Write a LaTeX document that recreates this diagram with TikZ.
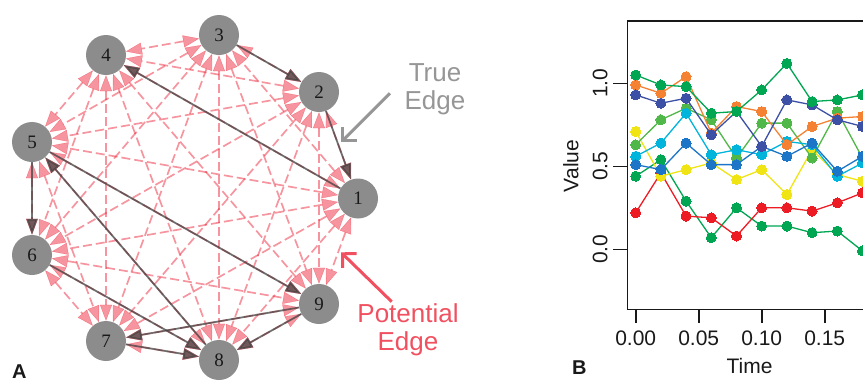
\documentclass[tikz,border=0pt]{standalone}
\usepackage{fontspec}
\setmainfont{Liberation Sans}
\newfontfamily\vertfont{Liberation Serif}
\usetikzlibrary{arrows.meta}

\definecolor{vertgray}{RGB}{140,140,140}
\definecolor{potred}{RGB}{235,30,50}
\definecolor{truegray}{RGB}{65,65,65}
\definecolor{labgray}{RGB}{150,150,150}
\definecolor{labred}{RGB}{240,80,95}
\definecolor{inkdark}{RGB}{25,25,25}
% series colours
\definecolor{sRed}{RGB}{237,28,36}
\definecolor{sOrange}{RGB}{245,130,50}
\definecolor{sYellow}{RGB}{240,228,20}
\definecolor{sDkGreen}{RGB}{0,166,81}
\definecolor{sLtGreen}{RGB}{80,184,72}
\definecolor{sCyan}{RGB}{0,180,220}
\definecolor{sBlue}{RGB}{28,117,198}
\definecolor{sNavy}{RGB}{60,80,165}

\begin{document}
\begin{tikzpicture}[x=1pt,y=-1pt,
  vert/.style={circle, fill=vertgray, minimum size=40pt, inner sep=0pt,
    font=\vertfont\fontsize{19}{19}\selectfont, text=inkdark},
  potential/.style={draw=potred, opacity=0.47, line width=1.7pt,
    dash pattern=on 9pt off 4pt,
    {Triangle[length=16pt,width=12pt,line width=0.3pt]}-{Triangle[length=16pt,width=12pt,line width=0.3pt]}},
  trueedge/.style={draw=truegray, fill=truegray, opacity=0.72, line width=1.8pt,
    -{Triangle[length=16pt,width=11pt]}},
  callout/.style={line width=3pt, -{Straight Barb[length=10pt,width=20pt]}},
  calloutlab/.style={align=center, font=\fontsize{26}{28}\selectfont},
  panel/.style={font=\bfseries\fontsize{20}{20}\selectfont, text=inkdark, inner sep=0pt},
  axisline/.style={draw=inkdark, line width=1.6pt},
  ticklab/.style={font=\fontsize{21}{21}\selectfont, text=inkdark, inner sep=0pt},
  series/.style={draw=#1, line width=1.3pt, mark=*, mark size=5pt,
    mark options={fill=#1, draw=#1, line width=0pt}},
]
\useasboundingbox (0,0) rectangle (863,381);

% ---------- network panel ----------
\node[vert] (n1) at (358,198.5) {1};
\node[vert] (n2) at (319,92) {2};
\node[vert] (n3) at (219,35) {3};
\node[vert] (n4) at (106,55) {4};
\node[vert] (n5) at (32,142) {5};
\node[vert] (n6) at (32,255) {6};
\node[vert] (n7) at (106,341) {7};
\node[vert] (n8) at (219,360) {8};
\node[vert] (n9) at (319,304) {9};

% every pair is a candidate edge in both directions
\foreach \i in {1,...,8}{
  \pgfmathtruncatemacro\s{\i+1}
  \foreach \j in {\s,...,9}{
    \draw[potential] (n\i) -- (n\j);
  }
}

% edges of the generating network
\foreach \a/\b in {3/2, 2/1, 1/4, 5/6, 5/9, 8/5, 6/8, 7/8, 9/7, 9/8}{
  \draw[trueedge] (n\a) -- (n\b);
}

% call-outs
\node[calloutlab, text=labgray] (truelab) at (435,89) {True\\Edge};
\coordinate (trueTail) at (390,93.3);
\coordinate (trueTip) at (341,142.3);
\draw[callout, draw=labgray] (trueTail) -- (trueTip);

\node[calloutlab, text=labred] (potlab) at (408,330) {Potential\\Edge};
\coordinate (potTail) at (391.7,301.7);
\coordinate (potTip) at (341,252.3);
\draw[callout, draw=labred] (potTail) -- (potTip);

\node[panel, anchor=base west] (panelA) at (12,378) {A};

% ---------- time-series panel ----------
\draw[axisline] (863,20.7) -- (627.5,20.7) -- (627.5,309.3) -- (863,309.3);
\foreach \y/\lab [count=\k] in {83.3/1.0, 166.3/0.5, 249.3/0.0}{
  \draw[axisline] (613,\y) -- (627.5,\y);
  \node[ticklab, rotate=90, anchor=base] (ytick\k) at (607.3,\y) {\lab};
}
\foreach \x/\lab [count=\k] in {635.7/0.00, 698.7/0.05, 761.7/0.10, 824.7/0.15}{
  \draw[axisline] (\x,309.3) -- (\x,322.7);
  \node[ticklab, anchor=base] (xtick\k) at (\x,345) {\lab};
}
\node[ticklab, anchor=base] (xlab) at (749.5,373.6) {Time};
\node[ticklab, rotate=90, anchor=base] (ylab) at (578.3,166) {Value};
\node[panel, anchor=base west] (panelB) at (572,374) {B};

\begin{scope}[shift={(635.7,249.3)}, x=1260pt, y=166pt]
  \draw[series=sDkGreen] plot coordinates {(0,0.44) (0.02,0.54) (0.04,0.29) (0.06,0.07) (0.08,0.25) (0.10,0.14) (0.12,0.14) (0.14,0.10) (0.16,0.11) (0.18,-0.01)};
  \draw[series=sRed] plot coordinates {(0,0.22) (0.02,0.46) (0.04,0.20) (0.06,0.19) (0.08,0.08) (0.10,0.25) (0.12,0.25) (0.14,0.23) (0.16,0.28) (0.18,0.34)};
  \draw[series=sYellow] plot coordinates {(0,0.71) (0.02,0.44) (0.04,0.48) (0.06,0.52) (0.08,0.42) (0.10,0.48) (0.12,0.33) (0.14,0.60) (0.16,0.45) (0.18,0.41)};
  \draw[series=sLtGreen] plot coordinates {(0,0.63) (0.02,0.78) (0.04,0.85) (0.06,0.78) (0.08,0.55) (0.10,0.76) (0.12,0.76) (0.14,0.55) (0.16,0.83) (0.18,0.55)};
  \draw[series=sCyan] plot coordinates {(0,0.56) (0.02,0.64) (0.04,0.82) (0.06,0.57) (0.08,0.60) (0.10,0.57) (0.12,0.65) (0.14,0.63) (0.16,0.44) (0.18,0.52)};
  \draw[series=sBlue] plot coordinates {(0,0.51) (0.02,0.48) (0.04,0.64) (0.06,0.51) (0.08,0.51) (0.10,0.62) (0.12,0.56) (0.14,0.64) (0.16,0.47) (0.18,0.56)};
  \draw[series=sOrange] plot coordinates {(0,0.99) (0.02,0.94) (0.04,1.04) (0.06,0.70) (0.08,0.86) (0.10,0.83) (0.12,0.63) (0.14,0.74) (0.16,0.79) (0.18,0.80)};
  \draw[series=sNavy] plot coordinates {(0,0.93) (0.02,0.88) (0.04,0.91) (0.06,0.69) (0.08,0.83) (0.10,0.62) (0.12,0.90) (0.14,0.87) (0.16,0.78) (0.18,0.74)};
  \draw[series=sDkGreen] plot coordinates {(0,1.05) (0.02,0.99) (0.04,0.98) (0.06,0.82) (0.08,0.83) (0.10,0.96) (0.12,1.12) (0.14,0.89) (0.16,0.90) (0.18,0.93)};
\end{scope}
\end{tikzpicture}
\end{document}
